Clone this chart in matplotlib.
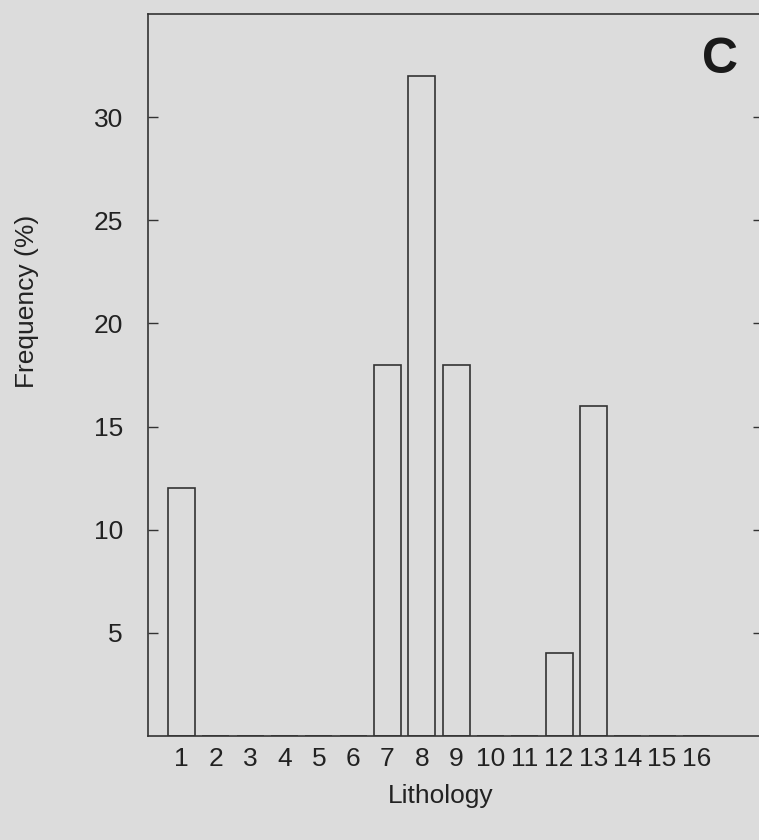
import matplotlib.pyplot as plt

plt.rcParams['font.family'] = ['Liberation Sans', 'DejaVu Sans']

# lithology classes and their frequency (%)
lithology = list(range(1, 17))
frequency = [12, 0, 0, 0, 0, 0, 18, 32, 18, 0, 0, 4, 16, 0, 0, 0]
yticks = [5, 10, 15, 20, 25, 30]

bg = '#dcdcdc'
ink = '#333333'

fig = plt.figure(figsize=(7.59, 8.40), dpi=100, facecolor=bg)
# right spine sits just past the image edge, as in the scanned figure
ax = fig.add_axes([0.195, 0.1238, 0.8103, 0.8595], facecolor=bg)

ax.bar(lithology, frequency, width=0.79, facecolor='none',
       edgecolor=ink, linewidth=1.2)

ax.set_xlim(0.024, 17.94)
ax.set_ylim(0, 35)
ax.set_xticks(lithology)
ax.set_xticklabels([str(v) for v in lithology])
ax.set_yticks(yticks)

ax.tick_params(axis='x', length=0, pad=8, labelsize=19, colors='#222222')
ax.tick_params(axis='y', direction='in', length=7, width=1, pad=18,
               labelsize=19, colors=ink, labelcolor='#222222',
               right=True)

for s in ax.spines.values():
    s.set_color(ink)
    s.set_linewidth(1.2)

fig.text(0.036, 1 - 301 / 840, 'Frequency (%)', rotation=90,
         ha='center', va='center', fontsize=19, color='#222222')
fig.text(441 / 759, 1 - 796 / 840, 'Lithology', ha='center', va='center',
         fontsize=19, color='#222222')
fig.text(720 / 759, 1 - 60 / 840, 'C', ha='center', va='center',
         fontsize=36, fontweight='bold', color='#1a1a1a')

fig.savefig('out.png', dpi=100, facecolor=bg)
